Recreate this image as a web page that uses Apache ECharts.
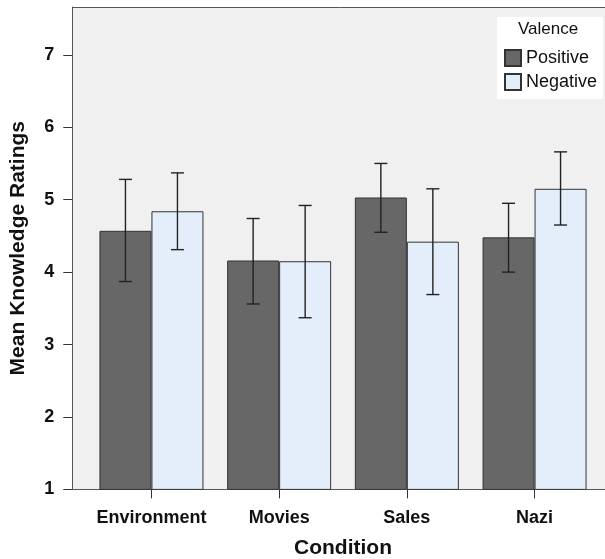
<!DOCTYPE html>
<html>
<head>
<meta charset="utf-8">
<script src="https://cdn.jsdelivr.net/npm/echarts@6/dist/echarts.min.js"></script>
<style>
  html, body { margin: 0; padding: 0; background: #fff; }
  #chart { width: 605px; height: 559px; }
</style>
</head>
<body>
<div id="chart"></div>
<script>
// data
var categories = ['Environment', 'Movies', 'Sales', 'Nazi']
var positiveMean = [4.57, 4.16, 5.03, 4.48]
var positiveLow = [3.87, 3.56, 4.55, 4.00]
var positiveHigh = [5.28, 4.74, 5.50, 4.95]
var negativeMean = [4.84, 4.15, 4.42, 5.15]
var negativeLow = [4.31, 3.37, 3.69, 4.65]
var negativeHigh = [5.37, 4.92, 5.15, 5.66]
var yTicks = [1, 2, 3, 4, 5, 6, 7]

var FONT = 'Liberation Sans, Arial, sans-serif'
var BAR_W = 52

var chart = echarts.init(document.getElementById('chart'))

// whisker with caps, shifted left/right of the category center
function errorBar(shift) {
  return function (params, api) {
    var lo = api.coord([api.value(0), api.value(1)])
    var hi = api.coord([api.value(0), api.value(2)])
    var x = lo[0] + shift
    var cap = 6.5
    var style = { stroke: '#222', lineWidth: 1.4 }
    return {
      type: 'group',
      children: [
        { type: 'line', shape: { x1: x, y1: lo[1], x2: x, y2: hi[1] }, style: style },
        { type: 'line', shape: { x1: x - cap, y1: lo[1], x2: x + cap, y2: lo[1] }, style: style },
        { type: 'line', shape: { x1: x - cap, y1: hi[1], x2: x + cap, y2: hi[1] }, style: style }
      ]
    }
  }
}

function whiskerData(low, high) {
  return low.map(function (v, i) { return [i, v, high[i]] })
}

var option = {
  backgroundColor: '#fff',
  animation: false,
  textStyle: { fontFamily: FONT },
  grid: { left: 87.6, right: 6.6, top: 7, bottom: 69.6, outerBoundsMode: 'none', containLabel: false },
  // plot frame
  graphic: [
    {
      type: 'rect', z: -10, silent: true,
      shape: { x: 72.5, y: 7.5, width: 560, height: 482 },
      style: { fill: '#f0f0f0', stroke: '#555', lineWidth: 1 }
    },
    {
      type: 'text', z: 100, left: 518, top: 21,
      style: { text: 'Valence', fontSize: 17, fontFamily: FONT, fill: '#111' }
    }
  ],
  legend: {
    data: ['Positive', 'Negative'],
    orient: 'vertical',
    left: 497, top: 17,
    padding: [32, 6, 8, 7],
    itemWidth: 16, itemHeight: 16, itemGap: 6,
    icon: 'rect',
    backgroundColor: '#fff',
    textStyle: { fontSize: 18, color: '#111', fontFamily: FONT }
  },
  xAxis: {
    type: 'category',
    data: categories,
    name: 'Condition',
    nameLocation: 'middle',
    nameGap: 48,
    nameMoveOverlap: false,
    nameTextStyle: { fontSize: 21, fontWeight: 'bold', color: '#111' },
    axisLine: { show: true, lineStyle: { color: '#555' } },
    axisTick: { show: true, alignWithLabel: true, length: 9, lineStyle: { color: '#333' } },
    axisLabel: { interval: 0, fontSize: 18, fontWeight: 'bold', color: '#111', margin: 20 }
  },
  yAxis: {
    type: 'value',
    min: 1, max: 7.66, interval: 1,
    offset: 15.3,
    name: 'Mean Knowledge Ratings',
    nameLocation: 'middle',
    nameGap: 44,
    nameMoveOverlap: false,
    nameTextStyle: { fontSize: 21, color: '#111', fontWeight: 'bold' },
    axisLine: { show: true, lineStyle: { color: '#555' } },
    splitLine: { show: false },
    axisTick: { show: true, length: 9, customValues: yTicks, lineStyle: { color: '#333' } },
    axisLabel: { fontSize: 18, fontWeight: 'bold', color: '#111', margin: 18, customValues: yTicks }
  },
  series: [
    {
      name: 'Positive',
      type: 'bar',
      barWidth: BAR_W,
      barGap: '0%',
      itemStyle: { color: '#676767', borderColor: '#333', borderWidth: 1 },
      data: positiveMean
    },
    {
      name: 'Negative',
      type: 'bar',
      barWidth: BAR_W,
      barGap: '0%',
      itemStyle: { color: '#e3eefa', borderColor: '#333', borderWidth: 1 },
      data: negativeMean
    },
    {
      type: 'custom',
      renderItem: errorBar(-BAR_W / 2),
      z: 5,
      data: whiskerData(positiveLow, positiveHigh)
    },
    {
      type: 'custom',
      renderItem: errorBar(BAR_W / 2),
      z: 5,
      data: whiskerData(negativeLow, negativeHigh)
    }
  ]
}

chart.setOption(option)
</script>
</body>
</html>
